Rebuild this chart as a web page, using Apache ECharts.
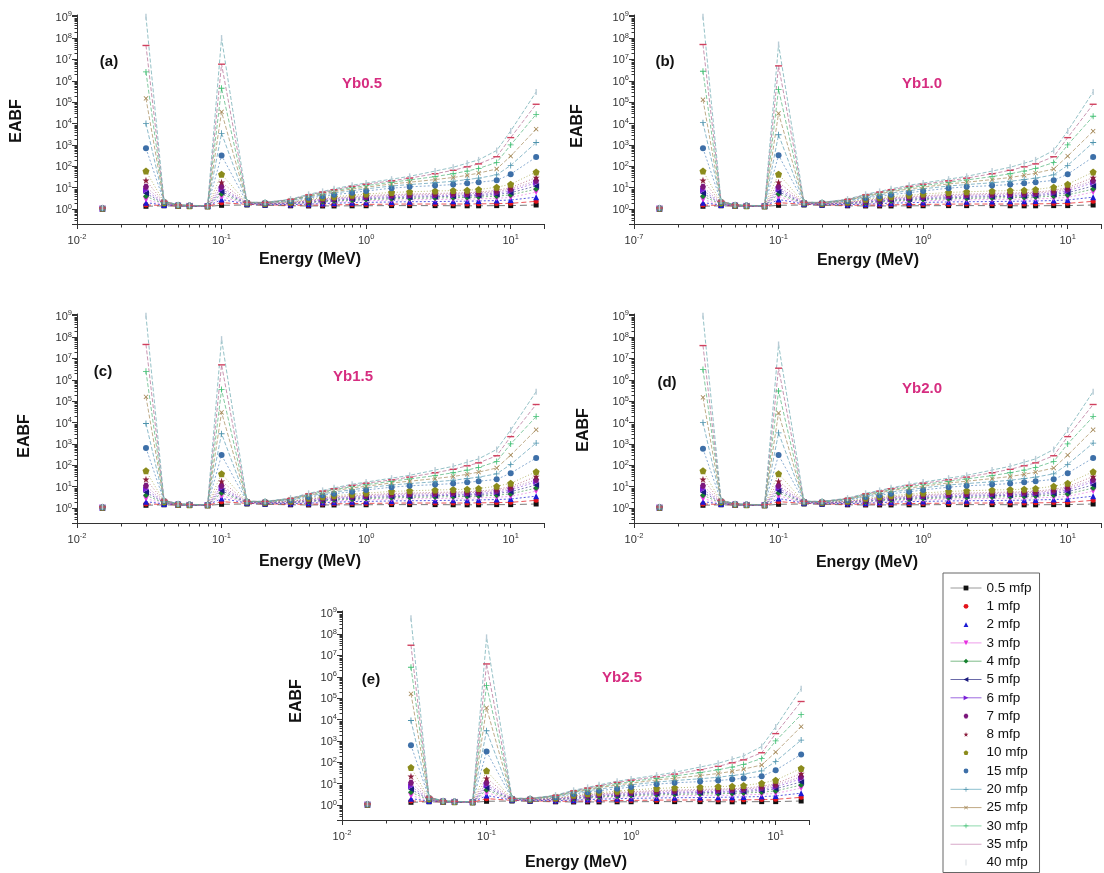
<!DOCTYPE html>
<html>
<head>
<meta charset="utf-8">
<script src="https://cdn.jsdelivr.net/npm/echarts@6/dist/echarts.min.js"></script>
<style>
html, body { margin: 0; padding: 0; background: #fff; }
#main { width: 1104px; height: 873px; }
</style>
</head>
<body>
<div id="main"></div>
<script>
// photon energies (MeV); 0.02 has no value, so the 0.015 point stands alone
var energy = [0.015, 0.02, 0.03, 0.04, 0.05, 0.06, 0.08, 0.1, 0.15, 0.2, 0.3, 0.4, 0.5, 0.6, 0.8, 1, 1.5, 2, 3, 4, 5, 6, 8, 10, 15];
var mfp = ['0.5 mfp', '1 mfp', '2 mfp', '3 mfp', '4 mfp', '5 mfp', '6 mfp', '7 mfp', '8 mfp', '10 mfp', '15 mfp', '20 mfp', '25 mfp', '30 mfp', '35 mfp', '40 mfp'];
var panelTags = ['(a)', '(b)', '(c)', '(d)', '(e)'];
var panelNames = ['Yb0.5', 'Yb1.0', 'Yb1.5', 'Yb2.0', 'Yb2.5'];
var xFirstExp = ['-2', '-7', '-2', '-2', '-2'];

// EABF, one row per penetration depth, one column per energy
var yb05 = [
  [1.01, null, 1.35, 1.42, 1.38, 1.35, 1.33, 1.50, 1.55, 1.50, 1.42, 1.40, 1.40, 1.40, 1.42, 1.43, 1.45, 1.45, 1.45, 1.43, 1.42, 1.42, 1.45, 1.45, 1.55],
  [1.02, null, 1.55, 1.48, 1.40, 1.37, 1.34, 2.0, 1.65, 1.58, 1.50, 1.52, 1.55, 1.58, 1.62, 1.65, 1.70, 1.72, 1.72, 1.72, 1.72, 1.75, 1.80, 1.85, 2.3],
  [1.03, null, 2.0, 1.55, 1.42, 1.38, 1.35, 2.8, 1.72, 1.65, 1.62, 1.70, 1.80, 1.88, 1.98, 2.05, 2.15, 2.2, 2.25, 2.3, 2.35, 2.4, 2.5, 2.65, 3.6],
  [1.04, null, 2.8, 1.62, 1.44, 1.39, 1.36, 3.8, 1.78, 1.70, 1.70, 1.85, 2.0, 2.15, 2.3, 2.45, 2.6, 2.7, 2.8, 2.85, 2.9, 3.0, 3.2, 3.5, 6.2],
  [1.05, null, 4.0, 1.70, 1.46, 1.40, 1.37, 5.0, 1.82, 1.74, 1.78, 2.0, 2.2, 2.4, 2.6, 2.8, 3.0, 3.15, 3.3, 3.4, 3.5, 3.65, 4.0, 4.6, 8.6],
  [1.05, null, 5.5, 1.78, 1.47, 1.41, 1.37, 6.5, 1.85, 1.77, 1.85, 2.15, 2.4, 2.65, 2.9, 3.1, 3.4, 3.6, 3.8, 3.95, 4.1, 4.3, 4.8, 5.8, 12],
  [1.06, null, 7.5, 1.85, 1.48, 1.42, 1.38, 8.5, 1.88, 1.80, 1.92, 2.3, 2.6, 2.9, 3.2, 3.45, 3.8, 4.0, 4.2, 4.35, 4.5, 4.8, 5.6, 7.0, 17],
  [1.06, null, 11, 1.92, 1.49, 1.42, 1.38, 11, 1.91, 1.83, 1.98, 2.45, 2.8, 3.1, 3.5, 3.8, 4.3, 4.5, 4.8, 5.0, 5.2, 5.5, 6.5, 8.5, 21],
  [1.07, null, 22, 1.98, 1.50, 1.43, 1.39, 18, 1.93, 1.85, 2.04, 2.6, 3.0, 3.35, 3.8, 4.2, 4.8, 5.0, 5.4, 5.6, 5.8, 6.2, 7.5, 10, 30],
  [1.08, null, 60, 2.05, 1.51, 1.44, 1.40, 42, 1.96, 1.88, 2.15, 2.85, 3.35, 3.8, 4.4, 5.0, 6.0, 6.4, 7.0, 7.3, 7.6, 8.2, 10.5, 14.5, 54],
  [1.09, null, 700, 2.15, 1.53, 1.45, 1.41, 320, 2.0, 1.93, 2.35, 3.3, 4.0, 4.7, 5.8, 7.0, 9.5, 11, 12.5, 14, 16, 18, 22, 43, 270],
  [1.10, null, 1.0e4, 2.2, 1.54, 1.46, 1.42, 3.5e3, 2.02, 1.96, 2.5, 3.7, 4.6, 5.6, 7.2, 8.8, 12, 14, 17, 20, 24, 28, 40, 110, 1300],
  [1.10, null, 1.5e5, 2.25, 1.55, 1.47, 1.43, 3.5e4, 2.04, 1.99, 2.6, 4.0, 5.2, 6.5, 8.7, 10.5, 15, 18, 24, 30, 38, 48, 75, 300, 5500],
  [1.11, null, 2.6e6, 2.3, 1.56, 1.48, 1.43, 4.5e5, 2.06, 2.02, 2.7, 4.3, 5.7, 7.3, 10, 12.5, 18, 23, 33, 45, 60, 80, 150, 1000, 2.7e4],
  [1.12, null, 4.5e7, 2.35, 1.57, 1.48, 1.44, 6e6, 2.08, 2.04, 2.8, 4.6, 6.2, 8.0, 11.5, 14.5, 21, 28, 45, 65, 95, 130, 280, 2200, 8e4],
  [1.15, null, 1.0e9, 2.4, 1.58, 1.49, 1.44, 1.0e8, 2.1, 2.06, 2.9, 4.9, 6.7, 8.8, 13, 16.5, 25, 34, 60, 90, 140, 200, 550, 4500, 3e5]
];
var yb10 = [
  [1.01, null, 1.35, 1.42, 1.38, 1.35, 1.33, 1.50, 1.55, 1.50, 1.42, 1.40, 1.40, 1.40, 1.42, 1.43, 1.45, 1.45, 1.45, 1.43, 1.42, 1.42, 1.45, 1.45, 1.55],
  [1.02, null, 1.55, 1.48, 1.40, 1.37, 1.34, 2.0, 1.65, 1.58, 1.50, 1.52, 1.55, 1.58, 1.62, 1.65, 1.70, 1.72, 1.72, 1.72, 1.72, 1.75, 1.80, 1.85, 2.3],
  [1.03, null, 2.0, 1.55, 1.42, 1.38, 1.35, 2.8, 1.72, 1.65, 1.62, 1.70, 1.80, 1.88, 1.98, 2.05, 2.15, 2.2, 2.25, 2.3, 2.35, 2.4, 2.5, 2.65, 3.6],
  [1.04, null, 2.8, 1.62, 1.44, 1.39, 1.36, 3.8, 1.78, 1.70, 1.70, 1.85, 2.0, 2.15, 2.3, 2.45, 2.6, 2.7, 2.8, 2.85, 2.9, 3.0, 3.2, 3.5, 6.2],
  [1.05, null, 4.0, 1.70, 1.46, 1.40, 1.37, 5.0, 1.82, 1.74, 1.78, 2.0, 2.2, 2.4, 2.6, 2.8, 3.0, 3.15, 3.3, 3.4, 3.5, 3.65, 4.0, 4.6, 8.6],
  [1.05, null, 5.5, 1.78, 1.47, 1.41, 1.37, 6.5, 1.85, 1.77, 1.85, 2.15, 2.4, 2.65, 2.9, 3.1, 3.4, 3.6, 3.8, 3.95, 4.1, 4.3, 4.8, 5.8, 12],
  [1.06, null, 7.5, 1.85, 1.48, 1.42, 1.38, 8.5, 1.88, 1.80, 1.92, 2.3, 2.6, 2.9, 3.2, 3.45, 3.8, 4.0, 4.2, 4.35, 4.5, 4.8, 5.6, 7.0, 17],
  [1.06, null, 11, 1.92, 1.49, 1.42, 1.38, 11, 1.91, 1.83, 1.98, 2.45, 2.8, 3.1, 3.5, 3.8, 4.3, 4.5, 4.8, 5.0, 5.2, 5.5, 6.5, 8.5, 21],
  [1.07, null, 22, 1.98, 1.50, 1.43, 1.39, 18, 1.93, 1.85, 2.04, 2.6, 3.0, 3.35, 3.8, 4.2, 4.8, 5.0, 5.4, 5.6, 5.8, 6.2, 7.5, 10, 30],
  [1.08, null, 60, 2.05, 1.51, 1.44, 1.40, 43, 1.96, 1.88, 2.15, 2.85, 3.35, 3.8, 4.4, 5.0, 6.0, 6.4, 7.0, 7.3, 7.6, 8.2, 10.5, 14.5, 54],
  [1.09, null, 700, 2.15, 1.53, 1.45, 1.41, 330, 2.0, 1.93, 2.35, 3.3, 4.0, 4.7, 5.8, 7.0, 9.5, 11, 12.5, 14, 16, 18, 22, 43, 270],
  [1.10, null, 1.1e4, 2.2, 1.54, 1.46, 1.42, 3e3, 2.02, 1.96, 2.5, 3.7, 4.6, 5.6, 7.2, 8.8, 12, 14, 17, 20, 24, 28, 40, 110, 1300],
  [1.10, null, 1.3e5, 2.25, 1.55, 1.47, 1.43, 3e4, 2.04, 1.99, 2.6, 4.0, 5.2, 6.5, 8.7, 10.5, 15, 18, 24, 30, 38, 48, 75, 300, 4.4e3],
  [1.11, null, 2.8e6, 2.3, 1.56, 1.48, 1.43, 4e5, 2.06, 2.02, 2.7, 4.3, 5.7, 7.3, 10, 12.5, 18, 23, 33, 45, 60, 80, 150, 1000, 2.2e4],
  [1.12, null, 5e7, 2.35, 1.57, 1.48, 1.44, 5e6, 2.08, 2.04, 2.8, 4.6, 6.2, 8.0, 11.5, 14.5, 21, 28, 45, 65, 95, 130, 280, 2200, 8e4],
  [1.15, null, 1.0e9, 2.4, 1.58, 1.49, 1.44, 5e7, 2.1, 2.06, 2.9, 4.9, 6.7, 8.8, 13, 16.5, 25, 34, 60, 90, 140, 200, 550, 4500, 3e5]
];
var yb15 = [
  [1.01, null, 1.35, 1.42, 1.38, 1.35, 1.33, 1.50, 1.55, 1.50, 1.42, 1.40, 1.40, 1.40, 1.42, 1.43, 1.45, 1.45, 1.45, 1.43, 1.42, 1.42, 1.45, 1.45, 1.55],
  [1.02, null, 1.55, 1.48, 1.40, 1.37, 1.34, 2.0, 1.65, 1.58, 1.50, 1.52, 1.55, 1.58, 1.62, 1.65, 1.70, 1.72, 1.72, 1.72, 1.72, 1.75, 1.80, 1.85, 2.3],
  [1.03, null, 2.0, 1.55, 1.42, 1.38, 1.35, 2.8, 1.72, 1.65, 1.62, 1.70, 1.80, 1.88, 1.98, 2.05, 2.15, 2.2, 2.25, 2.3, 2.35, 2.4, 2.5, 2.65, 3.6],
  [1.04, null, 2.8, 1.62, 1.44, 1.39, 1.36, 3.8, 1.78, 1.70, 1.70, 1.85, 2.0, 2.15, 2.3, 2.45, 2.6, 2.7, 2.8, 2.85, 2.9, 3.0, 3.2, 3.5, 6.2],
  [1.05, null, 4.0, 1.70, 1.46, 1.40, 1.37, 5.0, 1.82, 1.74, 1.78, 2.0, 2.2, 2.4, 2.6, 2.8, 3.0, 3.15, 3.3, 3.4, 3.5, 3.65, 4.0, 4.6, 8.6],
  [1.05, null, 5.5, 1.78, 1.47, 1.41, 1.37, 6.5, 1.85, 1.77, 1.85, 2.15, 2.4, 2.65, 2.9, 3.1, 3.4, 3.6, 3.8, 3.95, 4.1, 4.3, 4.8, 5.8, 12],
  [1.06, null, 7.5, 1.85, 1.48, 1.42, 1.38, 8.5, 1.88, 1.80, 1.92, 2.3, 2.6, 2.9, 3.2, 3.45, 3.8, 4.0, 4.2, 4.35, 4.5, 4.8, 5.6, 7.0, 17],
  [1.06, null, 11, 1.92, 1.49, 1.42, 1.38, 11, 1.91, 1.83, 1.98, 2.45, 2.8, 3.1, 3.5, 3.8, 4.3, 4.5, 4.8, 5.0, 5.2, 5.5, 6.5, 8.5, 21],
  [1.07, null, 22, 1.98, 1.50, 1.43, 1.39, 18, 1.93, 1.85, 2.04, 2.6, 3.0, 3.35, 3.8, 4.2, 4.8, 5.0, 5.4, 5.6, 5.8, 6.2, 7.5, 10, 30],
  [1.08, null, 55, 2.05, 1.51, 1.44, 1.40, 40, 1.96, 1.88, 2.15, 2.85, 3.35, 3.8, 4.4, 5.0, 6.0, 6.4, 7.0, 7.3, 7.6, 8.2, 10.5, 14.5, 50],
  [1.09, null, 650, 2.15, 1.53, 1.45, 1.41, 300, 2.0, 1.93, 2.35, 3.3, 4.0, 4.7, 5.8, 7.0, 9.5, 11, 12.5, 14, 16, 18, 22, 43, 220],
  [1.10, null, 9e3, 2.2, 1.54, 1.46, 1.42, 3e3, 2.02, 1.96, 2.5, 3.7, 4.6, 5.6, 7.2, 8.8, 12, 14, 17, 20, 24, 28, 40, 110, 1100],
  [1.10, null, 1.6e5, 2.25, 1.55, 1.47, 1.43, 3e4, 2.04, 1.99, 2.6, 4.0, 5.2, 6.5, 8.7, 10.5, 15, 18, 24, 30, 38, 48, 75, 300, 4.6e3],
  [1.11, null, 2.5e6, 2.3, 1.56, 1.48, 1.43, 3.5e5, 2.06, 2.02, 2.7, 4.3, 5.7, 7.3, 10, 12.5, 18, 23, 33, 45, 60, 80, 150, 1000, 1.9e4],
  [1.12, null, 4.5e7, 2.35, 1.57, 1.48, 1.44, 5e6, 2.08, 2.04, 2.8, 4.6, 6.2, 8.0, 11.5, 14.5, 21, 28, 45, 65, 95, 130, 280, 2200, 7e4],
  [1.15, null, 1.0e9, 2.4, 1.58, 1.49, 1.44, 8e7, 2.1, 2.06, 2.9, 4.9, 6.7, 8.8, 13, 16.5, 25, 34, 60, 90, 140, 200, 550, 4500, 2.8e5]
];
var yb20 = [
  [1.01, null, 1.35, 1.42, 1.38, 1.35, 1.33, 1.50, 1.55, 1.50, 1.42, 1.40, 1.40, 1.40, 1.42, 1.43, 1.45, 1.45, 1.45, 1.43, 1.42, 1.42, 1.45, 1.45, 1.55],
  [1.02, null, 1.55, 1.48, 1.40, 1.37, 1.34, 2.0, 1.65, 1.58, 1.50, 1.52, 1.55, 1.58, 1.62, 1.65, 1.70, 1.72, 1.72, 1.72, 1.72, 1.75, 1.80, 1.85, 2.3],
  [1.03, null, 2.0, 1.55, 1.42, 1.38, 1.35, 2.8, 1.72, 1.65, 1.62, 1.70, 1.80, 1.88, 1.98, 2.05, 2.15, 2.2, 2.25, 2.3, 2.35, 2.4, 2.5, 2.65, 3.6],
  [1.04, null, 2.8, 1.62, 1.44, 1.39, 1.36, 3.8, 1.78, 1.70, 1.70, 1.85, 2.0, 2.15, 2.3, 2.45, 2.6, 2.7, 2.8, 2.85, 2.9, 3.0, 3.2, 3.5, 6.2],
  [1.05, null, 4.0, 1.70, 1.46, 1.40, 1.37, 5.0, 1.82, 1.74, 1.78, 2.0, 2.2, 2.4, 2.6, 2.8, 3.0, 3.15, 3.3, 3.4, 3.5, 3.65, 4.0, 4.6, 8.6],
  [1.05, null, 5.5, 1.78, 1.47, 1.41, 1.37, 6.5, 1.85, 1.77, 1.85, 2.15, 2.4, 2.65, 2.9, 3.1, 3.4, 3.6, 3.8, 3.95, 4.1, 4.3, 4.8, 5.8, 12],
  [1.06, null, 7.5, 1.85, 1.48, 1.42, 1.38, 8.5, 1.88, 1.80, 1.92, 2.3, 2.6, 2.9, 3.2, 3.45, 3.8, 4.0, 4.2, 4.35, 4.5, 4.8, 5.6, 7.0, 17],
  [1.06, null, 11, 1.92, 1.49, 1.42, 1.38, 11, 1.91, 1.83, 1.98, 2.45, 2.8, 3.1, 3.5, 3.8, 4.3, 4.5, 4.8, 5.0, 5.2, 5.5, 6.5, 8.5, 21],
  [1.07, null, 22, 1.98, 1.50, 1.43, 1.39, 18, 1.93, 1.85, 2.04, 2.6, 3.0, 3.35, 3.8, 4.2, 4.8, 5.0, 5.4, 5.6, 5.8, 6.2, 7.5, 10, 30],
  [1.08, null, 55, 2.05, 1.51, 1.44, 1.40, 40, 1.96, 1.88, 2.15, 2.85, 3.35, 3.8, 4.4, 5.0, 6.0, 6.4, 7.0, 7.3, 7.6, 8.2, 10.5, 14.5, 50],
  [1.09, null, 600, 2.15, 1.53, 1.45, 1.41, 300, 2.0, 1.93, 2.35, 3.3, 4.0, 4.7, 5.8, 7.0, 9.5, 11, 12.5, 14, 16, 18, 22, 43, 220],
  [1.10, null, 1.0e4, 2.2, 1.54, 1.46, 1.42, 3.3e3, 2.02, 1.96, 2.5, 3.7, 4.6, 5.6, 7.2, 8.8, 12, 14, 17, 20, 24, 28, 40, 110, 1100],
  [1.10, null, 1.5e5, 2.25, 1.55, 1.47, 1.43, 2.8e4, 2.04, 1.99, 2.6, 4.0, 5.2, 6.5, 8.7, 10.5, 15, 18, 24, 30, 38, 48, 75, 300, 4.6e3],
  [1.11, null, 3e6, 2.3, 1.56, 1.48, 1.43, 3e5, 2.06, 2.02, 2.7, 4.3, 5.7, 7.3, 10, 12.5, 18, 23, 33, 45, 60, 80, 150, 1000, 1.9e4],
  [1.12, null, 4e7, 2.35, 1.57, 1.48, 1.44, 3.5e6, 2.08, 2.04, 2.8, 4.6, 6.2, 8.0, 11.5, 14.5, 21, 28, 45, 65, 95, 130, 280, 2200, 7e4],
  [1.15, null, 1.0e9, 2.4, 1.58, 1.49, 1.44, 4.5e7, 2.1, 2.06, 2.9, 4.9, 6.7, 8.8, 13, 16.5, 25, 34, 60, 90, 140, 200, 550, 4500, 2.8e5]
];
var yb25 = [
  [1.01, null, 1.35, 1.42, 1.38, 1.35, 1.33, 1.50, 1.55, 1.50, 1.42, 1.40, 1.40, 1.40, 1.42, 1.43, 1.45, 1.45, 1.45, 1.43, 1.42, 1.42, 1.45, 1.45, 1.55],
  [1.02, null, 1.55, 1.48, 1.40, 1.37, 1.34, 2.0, 1.65, 1.58, 1.50, 1.52, 1.55, 1.58, 1.62, 1.65, 1.70, 1.72, 1.72, 1.72, 1.72, 1.75, 1.80, 1.85, 2.3],
  [1.03, null, 2.0, 1.55, 1.42, 1.38, 1.35, 2.8, 1.72, 1.65, 1.62, 1.70, 1.80, 1.88, 1.98, 2.05, 2.15, 2.2, 2.25, 2.3, 2.35, 2.4, 2.5, 2.65, 3.6],
  [1.04, null, 2.8, 1.62, 1.44, 1.39, 1.36, 3.8, 1.78, 1.70, 1.70, 1.85, 2.0, 2.15, 2.3, 2.45, 2.6, 2.7, 2.8, 2.85, 2.9, 3.0, 3.2, 3.5, 6.2],
  [1.05, null, 4.0, 1.70, 1.46, 1.40, 1.37, 5.0, 1.82, 1.74, 1.78, 2.0, 2.2, 2.4, 2.6, 2.8, 3.0, 3.15, 3.3, 3.4, 3.5, 3.65, 4.0, 4.6, 8.6],
  [1.05, null, 5.5, 1.78, 1.47, 1.41, 1.37, 6.5, 1.85, 1.77, 1.85, 2.15, 2.4, 2.65, 2.9, 3.1, 3.4, 3.6, 3.8, 3.95, 4.1, 4.3, 4.8, 5.8, 12],
  [1.06, null, 7.5, 1.85, 1.48, 1.42, 1.38, 8.5, 1.88, 1.80, 1.92, 2.3, 2.6, 2.9, 3.2, 3.45, 3.8, 4.0, 4.2, 4.35, 4.5, 4.8, 5.6, 7.0, 17],
  [1.06, null, 11, 1.92, 1.49, 1.42, 1.38, 11, 1.91, 1.83, 1.98, 2.45, 2.8, 3.1, 3.5, 3.8, 4.3, 4.5, 4.8, 5.0, 5.2, 5.5, 6.5, 8.5, 21],
  [1.07, null, 22, 1.98, 1.50, 1.43, 1.39, 18, 1.93, 1.85, 2.04, 2.6, 3.0, 3.35, 3.8, 4.2, 4.8, 5.0, 5.4, 5.6, 5.8, 6.2, 7.5, 10, 30],
  [1.08, null, 57, 2.05, 1.51, 1.44, 1.40, 40, 1.96, 1.88, 2.15, 2.85, 3.35, 3.8, 4.4, 5.0, 6.0, 6.4, 7.0, 7.3, 7.6, 8.2, 10.5, 14.5, 52],
  [1.09, null, 630, 2.15, 1.53, 1.45, 1.41, 320, 2.0, 1.93, 2.35, 3.3, 4.0, 4.7, 5.8, 7.0, 9.5, 11, 12.5, 14, 16, 18, 22, 43, 235],
  [1.10, null, 9e3, 2.2, 1.54, 1.46, 1.42, 3e3, 2.02, 1.96, 2.5, 3.7, 4.6, 5.6, 7.2, 8.8, 12, 14, 17, 20, 24, 28, 40, 110, 1100],
  [1.10, null, 1.6e5, 2.25, 1.55, 1.47, 1.43, 3.5e4, 2.04, 1.99, 2.6, 4.0, 5.2, 6.5, 8.7, 10.5, 15, 18, 24, 30, 38, 48, 75, 300, 4.7e3],
  [1.11, null, 2.8e6, 2.3, 1.56, 1.48, 1.43, 4e5, 2.06, 2.02, 2.7, 4.3, 5.7, 7.3, 10, 12.5, 18, 23, 33, 45, 60, 80, 150, 1000, 1.7e4],
  [1.12, null, 3e7, 2.35, 1.57, 1.48, 1.44, 4e6, 2.08, 2.04, 2.8, 4.6, 6.2, 8.0, 11.5, 14.5, 21, 28, 45, 65, 95, 130, 280, 2200, 7e4],
  [1.15, null, 5.5e8, 2.4, 1.58, 1.49, 1.44, 7e7, 2.1, 2.06, 2.9, 4.9, 6.7, 8.8, 13, 16.5, 25, 34, 60, 90, 140, 200, 550, 4500, 2.8e5]
];
var tables = [yb05, yb10, yb15, yb20, yb25];

// layout
var gridPos = [[77, 15], [634, 15], [77, 314], [634, 314], [342, 611]];
var gridW = 467, gridH = 209;
var xMin = 0.01, xMax = 17, yMin = 0.2, yMax = 1.2e9;
var tagPos = [[109, 62], [665, 62], [103, 372], [667, 383], [371, 680]];
var namePos = [[362, 84], [922, 84], [353, 377], [922, 389], [622, 678]];
var yTitlePos = [[17, 121], [578, 126], [25, 436], [584, 430], [297, 701]];
var xTitlePos = [[310, 260], [868, 261], [310, 562], [867, 563], [576, 863]];
var FONT = '"Liberation Sans", Arial, sans-serif';

// series styles
var HEX = 'path://M2.5,0L7.5,0L10,4.33L7.5,8.66L2.5,8.66L0,4.33Z';
var STAR = 'path://M5,0L6.2,3.6L10,3.6L7,5.9L8.1,9.5L5,7.3L1.9,9.5L3,5.9L0,3.6L3.8,3.6Z';
var PENT = 'path://M5,0L10,3.6L8.1,9.5L1.9,9.5L0,3.6Z';
var PLUS = 'path://M4.3,0H5.7V4.3H10V5.7H5.7V10H4.3V5.7H0V4.3H4.3Z';
var markerShape = ['rect', 'circle', 'triangle', 'triangle', 'diamond', 'triangle', 'triangle', HEX, STAR, PENT, 'circle', PLUS, PLUS, PLUS, 'rect', 'rect'];
var markerRotate = [0, 0, 0, 180, 0, 90, -90, 0, 0, 0, 0, 0, 45, 0, 0, 0];
var markerSize = [5, 5, 6, 6, 6, 6, 6, 6, 7, 7, 6, 6, 6, 6, [7, 1.4], [1.4, 6]];
var markerColor = ['#111111', '#e3131b', '#1a1ad4', '#e62fe0', '#16802e', '#1a1a7e', '#7a20d8', '#7c177c', '#8a1c3c', '#8b8b1c', '#3d6fa8', '#4d93ad', '#a68a5a', '#3fbf72', '#d0405e', '#b9ccd6'];
var lineColor = ['#444444', '#e3131b', '#1a1ad4', '#e987e4', '#4f9e5e', '#4a4a98', '#9a60e0', '#9a4a9a', '#a8506a', '#a0a040', '#5a8cc0', '#5f9fb5', '#a68c5c', '#52b47c', '#b26a92', '#6aa8b0'];
var lineDash = [[7, 4], [5, 3], [2, 2], [2, 2], [2, 2], [2, 2], [2, 2], [1, 2], [1, 2], [1, 2], [2, 2], [4, 2], [4, 2], [4, 2], [4, 2], [4, 2]];
var legendLine = ['#9a9a9a', null, null, '#ee9cea', '#7dbb88', '#6a6aa8', '#9d6ae0', null, null, null, null, '#8cc0cf', '#c0a883', '#8ed9ad', '#d7a9c9', null];
// legend icons for the two entries whose marks are only thin strokes (box kept at 31x6 by corner specks)
var legendIcon = {
  '35 mfp': { icon: 'path://M0,2.5H31V3.5H0Z M0,0H0.01V0.01H0Z M30.99,5.99H31V6H30.99Z', color: '#d7a9c9' },
  '40 mfp': { icon: 'path://M15,0H16V6H15Z M0,0H0.01V0.01H0Z M30.99,5.99H31V6H30.99Z', color: '#d8dde2' }
};

// log minor tick positions
var xMinor = [0.02, 0.03, 0.04, 0.05, 0.06, 0.07, 0.08, 0.09, 0.2, 0.3, 0.4, 0.5, 0.6, 0.7, 0.8, 0.9, 2, 3, 4, 5, 6, 7, 8, 9];
var minorSteps = [2, 3, 4, 5, 6, 7, 8, 9];
var yMinor = [0.3, 0.4, 0.5, 0.6, 0.7, 0.8, 0.9];
for (var d = 0; d <= 8; d++) {
  minorSteps.forEach(function (s) { yMinor.push(s * Math.pow(10, d)); });
}

function supLabel(v, firstExp) {
  var lg = Math.log10(v);
  var e = Math.round(lg);
  if (Math.abs(lg - e) > 1e-6) return '';
  var t = String(e);
  if (firstExp && e === -2) t = firstExp;
  return '{b|10}{s|' + t + '}';
}
var labelRich = {
  b: { fontSize: 11, fontFamily: FONT, color: '#333', lineHeight: 13, verticalAlign: 'bottom' },
  s: { fontSize: 7.5, fontFamily: FONT, color: '#333', lineHeight: 8, verticalAlign: 'top' }
};

function tickRenderer(dir, len) {
  return function (params, api) {
    var p = api.coord([api.value(0), api.value(1)]);
    var x = Math.round(p[0]) + 0.5, y = Math.round(p[1]) + 0.5;
    var shape = dir === 'x' ? { x1: x, y1: y, x2: x, y2: y + len } : { x1: x - len, y1: y, x2: x, y2: y };
    return { type: 'line', shape: shape, style: { stroke: '#333', lineWidth: 1 }, silent: true };
  };
}

var grids = [], xAxes = [], yAxes = [], series = [], graphics = [];
tables.forEach(function (tbl, p) {
  grids.push({ left: gridPos[p][0], top: gridPos[p][1], width: gridW, height: gridH, outerBoundsMode: 'none' });
  xAxes.push({
    type: 'log', gridIndex: p, min: xMin, max: xMax, splitNumber: 5,
    axisLine: { show: true, lineStyle: { color: '#333', width: 1 } },
    axisTick: { show: true, inside: false, length: 5, lineStyle: { color: '#333' } },
    splitLine: { show: false },
    axisLabel: { margin: 9, formatter: (function (fe) { return function (v) { return supLabel(v, fe); }; })(xFirstExp[p]), rich: labelRich }
  });
  yAxes.push({
    type: 'log', gridIndex: p, min: yMin, max: yMax, splitNumber: 10,
    axisLine: { show: true, lineStyle: { color: '#333', width: 1 } },
    axisTick: { show: true, inside: false, length: 5, lineStyle: { color: '#333' } },
    splitLine: { show: false },
    axisLabel: { margin: 5, formatter: function (v) { return supLabel(v, null); }, rich: labelRich }
  });
  tbl.forEach(function (row, i) {
    series.push({
      type: 'line', name: mfp[i], xAxisIndex: p, yAxisIndex: p,
      data: energy.map(function (e, j) { return [e, row[j]]; }),
      connectNulls: false,
      symbol: markerShape[i], symbolSize: markerSize[i], symbolRotate: markerRotate[i],
      itemStyle: { color: markerColor[i] },
      lineStyle: { color: lineColor[i], width: 0.8, type: lineDash[i], opacity: 0.9 },
      emphasis: { disabled: true }, animation: false
    });
  });
  series.push({
    type: 'custom', xAxisIndex: p, yAxisIndex: p, silent: true, animation: false, z: 5,
    data: xMinor.map(function (v) { return [v, yMin]; }), renderItem: tickRenderer('x', 3)
  });
  series.push({
    type: 'custom', xAxisIndex: p, yAxisIndex: p, silent: true, animation: false, z: 5,
    data: yMinor.map(function (v) { return [xMin, v]; }), renderItem: tickRenderer('y', 3)
  });

  graphics.push({ type: 'text', x: tagPos[p][0], y: tagPos[p][1],
    style: { text: panelTags[p], fill: '#111', font: 'bold 15px ' + FONT, textAlign: 'center', textVerticalAlign: 'middle', align: 'center', verticalAlign: 'middle' } });
  graphics.push({ type: 'text', x: namePos[p][0], y: namePos[p][1],
    style: { text: panelNames[p], fill: '#d62d80', font: 'bold 15px ' + FONT, textAlign: 'center', textVerticalAlign: 'middle', align: 'center', verticalAlign: 'middle' } });
  graphics.push({ type: 'text', x: yTitlePos[p][0], y: yTitlePos[p][1], rotation: Math.PI / 2,
    style: { text: 'EABF', fill: '#111', font: 'bold 16px ' + FONT, textAlign: 'center', textVerticalAlign: 'middle', align: 'center', verticalAlign: 'middle' } });
  graphics.push({ type: 'text', x: xTitlePos[p][0], y: xTitlePos[p][1],
    style: { text: 'Energy (MeV)', fill: '#111', font: 'bold 16px ' + FONT, textAlign: 'center', textVerticalAlign: 'middle', align: 'center', verticalAlign: 'middle' } });
});

var legendData = mfp.map(function (n, i) {
  if (legendIcon[n]) {
    return { name: n, icon: legendIcon[n].icon, itemStyle: { color: legendIcon[n].color } };
  }
  return {
    name: n,
    lineStyle: legendLine[i] ? { color: legendLine[i], type: 'solid', width: 1, opacity: 1 } : { color: 'rgba(0,0,0,0)', width: 0 }
  };
});

var chart = echarts.init(document.getElementById('main'), null, { renderer: 'canvas' });
chart.setOption({
  backgroundColor: '#ffffff',
  animation: false,
  textStyle: { fontFamily: FONT },
  grid: grids,
  xAxis: xAxes,
  yAxis: yAxes,
  legend: {
    data: legendData, orient: 'vertical', left: 943, top: 573,
    borderColor: '#666', borderWidth: 1, padding: [8, 8, 3, 7],
    itemWidth: 31, itemHeight: 6, itemGap: 4.3,
    selectedMode: false,
    textStyle: { fontSize: 13.5, color: '#111', lineHeight: 14, fontFamily: FONT }
  },
  graphic: graphics,
  series: series
});
</script>
</body>
</html>
